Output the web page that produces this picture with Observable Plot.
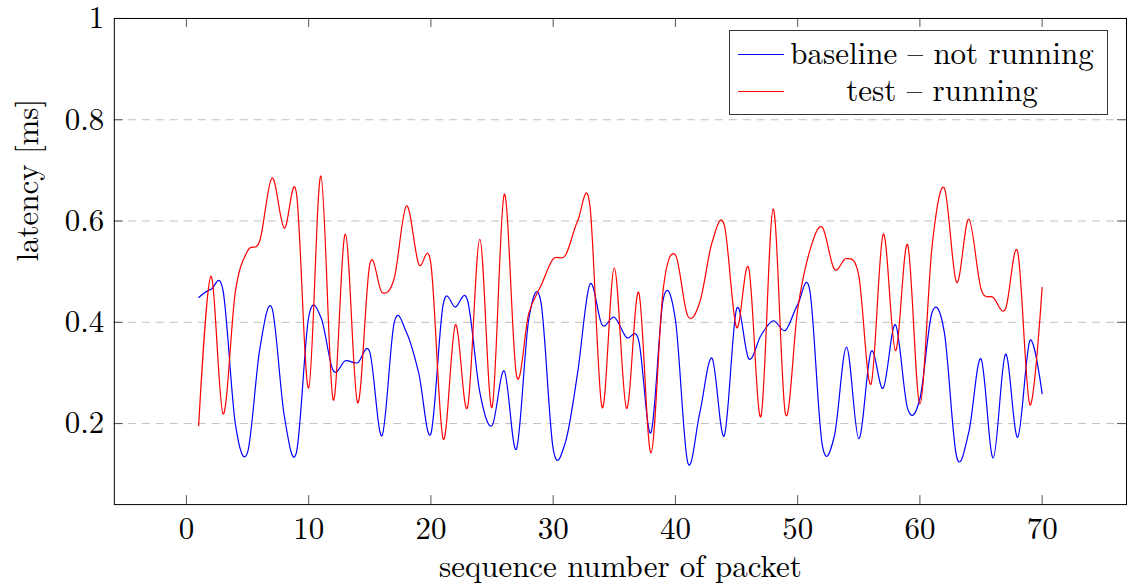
<!DOCTYPE html>
<html>
<head>
<meta charset="utf-8">
<script src="https://cdn.jsdelivr.net/npm/d3@7"></script>
<script src="https://cdn.jsdelivr.net/npm/@observablehq/plot@0.6"></script>
<style>
  html, body { margin: 0; padding: 0; background: #fff; overflow: hidden; }
  #wrap { position: relative; width: 1127px; height: 584px; overflow: hidden; font-family: "Latin Modern Roman", "Liberation Serif", serif; }
  #legend { position: absolute; left: 729px; top: 30px; width: 379px; height: 85px; box-sizing: border-box;
            border: 1px solid #333; background: #fff; font-size: 31px; color: #000;
            font-family: "Latin Modern Roman", "Liberation Serif", serif; }
  .row { position: absolute; left: 0; width: 100%; height: 36px; }
  .swatch { position: absolute; left: 8px; width: 46px; top: 18px; height: 0; border-top: 1.2px solid; }
  .lab { position: absolute; left: 60px; width: 304px; top: -3px; height: 36px; line-height: 36px; text-align: center; white-space: nowrap; }
  svg text { font-family: "Latin Modern Roman", "Liberation Serif", serif; }
</style>
</head>
<body>
<div id="wrap"></div>
<script>
// ---- data ----
const seq = d3.range(1, 71); // packet sequence numbers 1..70
const baseline = [
  0.449, 0.465, 0.462, 0.200, 0.143, 0.347, 0.428, 0.216, 0.143, 0.410,
  0.410, 0.305, 0.324, 0.320, 0.341, 0.176, 0.400, 0.380, 0.300, 0.180,
  0.435, 0.430, 0.443, 0.262, 0.196, 0.304, 0.150, 0.405, 0.440, 0.150,
  0.163, 0.300, 0.475, 0.395, 0.410, 0.370, 0.364, 0.182, 0.445, 0.405,
  0.124, 0.222, 0.329, 0.176, 0.426, 0.328, 0.374, 0.403, 0.384, 0.435,
  0.462, 0.160, 0.175, 0.351, 0.170, 0.342, 0.270, 0.395, 0.229, 0.249,
  0.420, 0.380, 0.135, 0.183, 0.328, 0.132, 0.337, 0.173, 0.364, 0.259
];
const test = [
  0.196, 0.491, 0.219, 0.460, 0.541, 0.561, 0.685, 0.586, 0.655, 0.270,
  0.689, 0.247, 0.574, 0.241, 0.515, 0.459, 0.487, 0.630, 0.515, 0.515,
  0.170, 0.395, 0.232, 0.564, 0.232, 0.653, 0.295, 0.417, 0.472, 0.525,
  0.532, 0.600, 0.632, 0.232, 0.507, 0.230, 0.459, 0.142, 0.465, 0.533,
  0.413, 0.440, 0.558, 0.592, 0.390, 0.507, 0.214, 0.624, 0.219, 0.425,
  0.542, 0.588, 0.505, 0.526, 0.492, 0.278, 0.574, 0.344, 0.553, 0.239,
  0.551, 0.665, 0.479, 0.604, 0.466, 0.449, 0.426, 0.539, 0.237, 0.469
];
const seriesNames = ["baseline – not running", "test – running"];
const seriesColors = ["blue", "red"];
const xTicks = [0, 10, 20, 30, 40, 50, 60, 70];
const yTicks = [0.2, 0.4, 0.6, 0.8, 1];
const yTickLabels = ["0.2", "0.4", "0.6", "0.8", "1"];
const gridValues = [0.2, 0.4, 0.6, 0.8];
const xLabel = "sequence number of packet";
const yLabel = "latency [ms]";

// ---- layout ----
const FONT = "'Latin Modern Roman', 'Liberation Serif', serif";
const W = 1129, H = 584;
const mL = 114, mR = 1, mT = 18, mB = 79;
const frameW = W - mL - mR, frameH = H - mT - mB;
const tickLen = 9;

const rows = [];
seq.forEach((s, i) => {
  rows.push({seq: s, v: baseline[i], series: seriesNames[0]});
});
seq.forEach((s, i) => {
  rows.push({seq: s, v: test[i], series: seriesNames[1]});
});

const chart = Plot.plot({
  width: W, height: H,
  marginLeft: mL, marginRight: mR, marginTop: mT, marginBottom: mB,
  style: {fontFamily: FONT, fontSize: "31px", color: "#000", background: "#fff", overflow: "visible"},
  x: {domain: [-5.9, 76.9]},
  y: {domain: [0.04, 1]},
  color: {domain: seriesNames, range: seriesColors},
  marks: [
    Plot.gridY(gridValues, {stroke: "#c0c0c0", strokeOpacity: 1, strokeWidth: 1, strokeDasharray: "8,6"}),
    // inward tick marks
    Plot.tickX(xTicks, {x: d => d, insetTop: frameH - tickLen, stroke: "#555", strokeWidth: 1}),
    Plot.tickX(xTicks, {x: d => d, insetBottom: frameH - tickLen, stroke: "#555", strokeWidth: 1}),
    Plot.tickY(yTicks, {y: d => d, insetRight: frameW - tickLen, stroke: "#555", strokeWidth: 1}),
    Plot.tickY(yTicks, {y: d => d, insetLeft: frameW - tickLen, stroke: "#555", strokeWidth: 1}),
    Plot.line(rows, {x: "seq", y: "v", z: "series", stroke: "series", curve: "cardinal", strokeWidth: 1.2}),
    Plot.frame({stroke: "#000", strokeWidth: 1}),
    Plot.axisX({ticks: xTicks, tickSize: 0, tickPadding: 12, fontSize: 31, label: null}),
    Plot.axisY({ticks: yTicks, tickSize: 0, tickPadding: 10, fontSize: 31, label: null,
                tickFormat: d => yTickLabels[yTicks.indexOf(d)]}),
    Plot.text([xLabel], {frameAnchor: "bottom", dy: 51, lineAnchor: "top", fontSize: 31, fill: "#000"}),
    Plot.text([yLabel], {frameAnchor: "left", dx: -86, rotate: -90, fontSize: 31, fill: "#000"})
  ]
});

const wrap = document.getElementById("wrap");
wrap.appendChild(chart);

// legend overlay
const legend = document.createElement("div");
legend.id = "legend";
seriesNames.forEach((name, i) => {
  const row = document.createElement("div");
  row.className = "row";
  row.style.top = (5 + i * 37) + "px";
  const sw = document.createElement("div");
  sw.className = "swatch";
  sw.style.borderTopColor = seriesColors[i];
  const lab = document.createElement("div");
  lab.className = "lab";
  lab.textContent = name;
  row.appendChild(sw);
  row.appendChild(lab);
  legend.appendChild(row);
});
wrap.appendChild(legend);
</script>
</body>
</html>
